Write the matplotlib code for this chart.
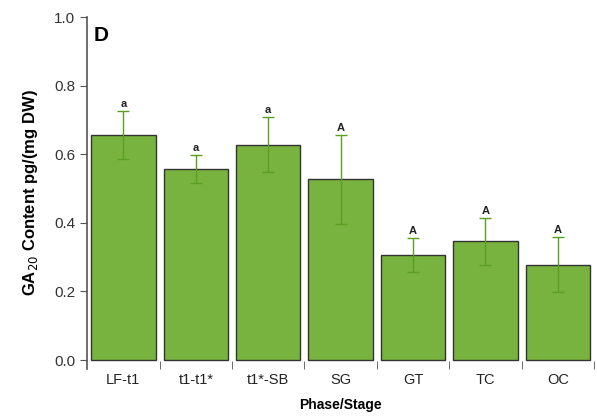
import numpy as np
import matplotlib.pyplot as plt

plt.rcParams['font.family'] = ['Liberation Sans', 'DejaVu Sans']

# data
stages = ["LF-t1", "t1-t1*", "t1*-SB", "SG", "GT", "TC", "OC"]
ga20 = [0.656, 0.557, 0.628, 0.527, 0.307, 0.346, 0.278]
err = [0.07, 0.04, 0.08, 0.13, 0.05, 0.068, 0.08]
letters = ["a", "a", "a", "A", "A", "A", "A"]

x = np.arange(len(stages))

fig, ax = plt.subplots(figsize=(5.97, 4.16), dpi=100)
fig.subplots_adjust(left=0.146, right=0.995, bottom=0.114, top=0.959)

ax.bar(x, ga20, width=0.89, color="#79b33f", edgecolor="#333333", linewidth=1, zorder=2)
ax.errorbar(x, ga20, yerr=err, fmt="none", ecolor="#5a9e22", elinewidth=1,
            capsize=4, capthick=1, zorder=3)

for xi, v, e, lab in zip(x, ga20, err, letters):
    ax.text(xi, v + e + 0.006, lab, ha="center", va="bottom", fontsize=8,
            fontweight="bold", color="#222222")

ax.set_xlim(-0.5, 6.5)
ax.set_ylim(-0.025, 1.0)
ax.set_yticks([0.0, 0.2, 0.4, 0.6, 0.8, 1.0])
ax.set_yticklabels(["0.0", "0.2", "0.4", "0.6", "0.8", "1.0"])
ax.set_xticks(x)
ax.set_xticklabels(stages)
ax.set_xticks(np.arange(0.5, 7, 1), minor=True)

ax.spines["top"].set_visible(False)
ax.spines["right"].set_visible(False)
ax.spines["bottom"].set_visible(False)
ax.spines["left"].set_color("#555555")
ax.spines["left"].set_linewidth(1.2)

ax.tick_params(axis="y", direction="out", length=5, color="#555555",
               labelsize=11, labelcolor="#333333")
ax.tick_params(axis="x", which="major", length=0, pad=3, labelsize=10.5, labelcolor="#222222")
ax.tick_params(axis="x", which="minor", direction="in", length=6, color="#555555")

ax.set_ylabel("GA$_{20}$ Content pg/(mg DW)", fontsize=12, fontweight="bold", labelpad=10)
ax.set_xlabel("Phase/Stage", fontsize=10, fontweight="bold", labelpad=8)
ax.text(0.012, 0.975, "D", transform=ax.transAxes, fontsize=15, fontweight="bold",
        va="top", ha="left")

fig.savefig("out.png", dpi=100)
